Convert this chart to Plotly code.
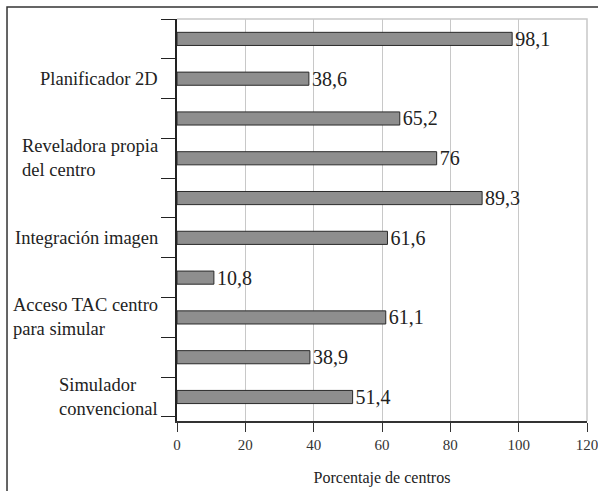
import plotly.graph_objects as go

# Categories listed top to bottom; unlabeled bars keep an empty label
category_ids = ["c1", "c2", "c3", "c4", "c5", "c6", "c7", "c8", "c9", "c10"]
category_labels = ["", "Planificador 2D", "", "Reveladora propia<br>del centro", "",
                   "Integración imagen", "", "Acceso TAC centro<br>para simular", "",
                   "Simulador<br>convencional"]
values = [98.1, 38.6, 65.2, 76, 89.3, 61.6, 10.8, 61.1, 38.9, 51.4]
x_ticks = [0, 20, 40, 60, 80, 100, 120]

value_text = [f"{v:g}".replace(".", ",") for v in values]

serif = "Liberation Serif, Times New Roman, serif"

fig = go.Figure(go.Bar(
    x=values, y=category_ids, orientation="h",
    width=0.33,
    marker=dict(color="#8e8e8e", line=dict(color="#2a2a2a", width=1)),
    text=value_text, textposition="outside", constraintext="none",
    textfont=dict(family=serif, size=20, color="#222222"),
    cliponaxis=False,
))

# Category labels: left-aligned multi-line blocks, right edge near the axis
label_annotations = [
    dict(text=lab, xref="paper", yref="y", x=-17 / 410, y=cid,
         xanchor="right", yanchor="middle", align="left", showarrow=False,
         font=dict(family=serif, size=18.5, color="#222222"))
    for cid, lab in zip(category_ids, category_labels) if lab
]

fig.update_layout(
    width=598, height=491,
    margin=dict(l=177, r=11, t=19, b=70, autoexpand=False),
    paper_bgcolor="white", plot_bgcolor="white",
    showlegend=False,
    font=dict(family=serif, color="#222222"),
    xaxis=dict(
        range=[0, 120], tickvals=x_ticks, ticktext=[str(t) for t in x_ticks],
        showgrid=True, gridcolor="#c8c8c8", gridwidth=1,
        showline=True, linecolor="#333333", linewidth=1.5,
        ticks="outside", ticklen=9, tickcolor="#333333", tickwidth=1,
        tickfont=dict(family=serif, size=15, color="#333333"),
        ticklabeloverflow="allow",
        zeroline=False, automargin=False,
        title=dict(text="Porcentaje de centros", font=dict(family=serif, size=16, color="#222222"), standoff=20),
    ),
    yaxis=dict(
        type="category", categoryorder="array", categoryarray=category_ids,
        autorange="reversed", automargin=False,
        tickmode="array", tickvals=category_ids, ticktext=[""] * len(category_ids),
        tickson="boundaries",
        showgrid=False, zeroline=False,
        showline=True, linecolor="#222222", linewidth=1.5,
        ticks="outside", ticklen=14, tickcolor="#222222", tickwidth=1.2,
    ),
    annotations=label_annotations,
    shapes=[
        # light top and right border of plot area
        dict(type="path", xref="x domain", yref="y domain",
             path="M 0 1 L 1 1 L 1 0",
             line=dict(color="#c8c8c8", width=1.5)),
        # outer frame (left and top)
        dict(type="path", xref="paper", yref="paper",
             path="M -0.4146 -0.2 L -0.4146 1.0299 L 1.05 1.0299",
             line=dict(color="#333333", width=1.5)),
    ],
)

fig.write_html("out.html", config={"displayModeBar": False},
               post_script="document.body.style.margin='0';")
